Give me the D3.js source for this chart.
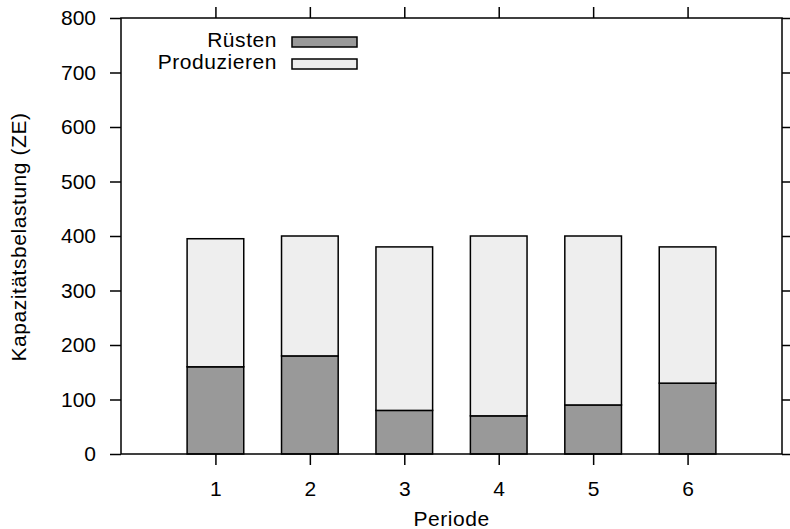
<!DOCTYPE html>
<html>
<head>
<meta charset="utf-8">
<script src="https://cdn.jsdelivr.net/npm/d3@7"></script>
<style>
  body { margin: 0; background: #fff; }
  text { font-family: "Liberation Sans", Arial, sans-serif; fill: #000; }
  .label { letter-spacing: 0.55px; }
</style>
</head>
<body>
<div id="chart"></div>
<script>
const periods = [1, 2, 3, 4, 5, 6];
const ruesten = [160, 180, 80, 70, 90, 130];
const produzieren = [235, 220, 300, 330, 310, 250];
const yTicks = [0, 100, 200, 300, 400, 500, 600, 700, 800];
const seriesNames = ['Rüsten', 'Produzieren'];
const seriesColors = ['#999999', '#eeeeee'];

const width = 790, height = 529;
const margin = { top: 18, right: 8, bottom: 75, left: 121 };
const innerW = width - margin.left - margin.right;
const innerH = height - margin.top - margin.bottom;
const fontSize = 21;

const svg = d3.select('#chart').append('svg')
  .attr('width', width)
  .attr('height', height);

const g = svg.append('g')
  .attr('transform', `translate(${margin.left},${margin.top})`);

const x = d3.scaleLinear().domain([0, 7]).range([0, innerW]);
const y = d3.scaleLinear().domain([0, 800]).range([innerH, 0]);
const barW = x(0.6) - x(0);

const rows = periods.map((p, i) => ({ period: p, 'Rüsten': ruesten[i], 'Produzieren': produzieren[i] }));
const stacked = d3.stack().keys(seriesNames)(rows);

// bars
stacked.forEach((layer, li) => {
  g.selectAll(`.bar-${li}`)
    .data(layer)
    .join('rect')
    .attr('class', `bar-${li}`)
    .attr('x', d => x(d.data.period) - barW / 2)
    .attr('y', d => y(d[1]))
    .attr('width', barW)
    .attr('height', d => y(d[0]) - y(d[1]))
    .attr('fill', seriesColors[li])
    .attr('stroke', '#000')
    .attr('stroke-width', 1.5);
});

// axes
const tickLen = 11;
g.append('g')
  .attr('transform', `translate(0,${innerH})`)
  .call(d3.axisBottom(x).tickValues(periods).tickSize(tickLen).tickPadding(16).tickFormat(d3.format('d')));
g.append('g')
  .call(d3.axisTop(x).tickValues(periods).tickSize(tickLen).tickFormat(''));
g.append('g')
  .call(d3.axisLeft(y).tickValues(yTicks).tickSize(tickLen).tickPadding(14));
g.append('g')
  .attr('transform', `translate(${innerW},0)`)
  .call(d3.axisRight(y).tickValues(yTicks).tickSize(tickLen).tickFormat(''));

g.selectAll('.domain').remove();
g.selectAll('.tick line').attr('stroke', '#000').attr('stroke-width', 1.5);
g.selectAll('.tick text')
  .attr('font-size', fontSize)
  .attr('font-family', '"Liberation Sans", Arial, sans-serif');

g.append('rect')
  .attr('width', innerW)
  .attr('height', innerH)
  .attr('fill', 'none')
  .attr('stroke', '#000')
  .attr('stroke-width', 1.5);

// axis labels
svg.append('text')
  .attr('class', 'label')
  .attr('x', margin.left + x(3.5))
  .attr('y', 526)
  .attr('text-anchor', 'middle')
  .attr('font-size', fontSize)
  .text('Periode');

svg.append('text')
  .attr('class', 'label')
  .attr('transform', `translate(26,${margin.top + innerH / 2 + 1}) rotate(-90)`)
  .attr('text-anchor', 'middle')
  .attr('font-size', fontSize)
  .text('Kapazitätsbelastung (ZE)');

// legend
const legend = svg.append('g').attr('transform', 'translate(292,37)');
seriesNames.forEach((name, i) => {
  const row = legend.append('g').attr('transform', `translate(0,${i * 22})`);
  row.append('rect')
    .attr('width', 65)
    .attr('height', 10)
    .attr('fill', seriesColors[i])
    .attr('stroke', '#000')
    .attr('stroke-width', 1.5);
  row.append('text')
    .attr('class', 'label')
    .attr('x', -15)
    .attr('y', 10)
    .attr('text-anchor', 'end')
    .attr('font-size', fontSize)
    .text(name);
});
</script>
</body>
</html>
